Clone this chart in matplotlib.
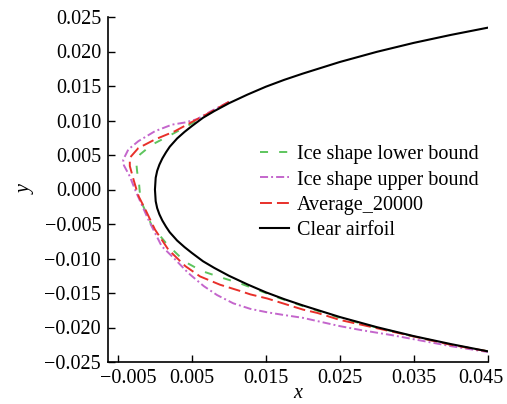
import matplotlib
matplotlib.use("Agg")
import matplotlib.pyplot as plt
from matplotlib.transforms import ScaledTranslation

plt.rcParams['font.family'] = ['Liberation Serif', 'DejaVu Serif']
plt.rcParams['lines.scale_dashes'] = False

# Clear airfoil (upper surface from x=0.045 to the leading edge, then the lower surface)
clear_x = [0.045, 0.040, 0.035, 0.030, 0.025, 0.020, 0.0175, 0.015, 0.0125, 0.010, 0.008,
           0.0065, 0.005, 0.004, 0.003, 0.002, 0.0015, 0.001, 0.0006, 0.0003, 0.0001, 0.0,
           0.0001, 0.0003, 0.0006, 0.001, 0.0015, 0.002, 0.003, 0.004, 0.005, 0.0065,
           0.008, 0.010, 0.0125, 0.015, 0.0175, 0.020, 0.025, 0.030, 0.035, 0.040, 0.045]
clear_y = [0.02345, 0.0224, 0.02125, 0.01995, 0.01848, 0.0168, 0.0159, 0.0149, 0.01375, 0.0125, 0.01135,
           0.0104, 0.0092, 0.00835, 0.0074, 0.0062, 0.0054, 0.0045, 0.0036, 0.0027, 0.0017, 0.0,
           -0.0017, -0.0027, -0.0036, -0.0045, -0.0054, -0.0062, -0.0074, -0.00835, -0.0092, -0.0104,
           -0.01135, -0.0125, -0.01375, -0.0149, -0.0159, -0.0168, -0.01848, -0.01995, -0.02125, -0.0224, -0.02345]

# Ice shape lower bound
lower_x = [0.010, 0.0075, 0.0052, 0.0023, -0.0004, -0.0020, -0.0025, -0.0024, -0.0022, -0.0020,
           -0.0018, -0.0004, 0.0016, 0.0041, 0.0063, 0.0088, 0.0115, 0.0140, 0.0170,
           0.020, 0.025, 0.030, 0.035, 0.040, 0.045]
lower_y = [0.0126, 0.0111, 0.0097, 0.0080, 0.0065, 0.0051, 0.0036, 0.0025, 0.00145, -0.0010,
           -0.0019, -0.0053, -0.0079, -0.0105, -0.0118, -0.0127, -0.0136, -0.0146, -0.0158,
           -0.0169, -0.0186, -0.0200, -0.0213, -0.0225, -0.02345]

# Ice shape upper bound
upper_x = [0.010, 0.0075, 0.0057, 0.0040, 0.0023, 0.0, -0.00225, -0.0036, -0.0043, -0.0042,
           -0.0034, -0.0027, -0.0025, -0.0009, 0.0009, 0.0027, 0.0045, 0.0066, 0.0084,
           0.0106, 0.0129, 0.0152, 0.0175, 0.020, 0.0225, 0.025, 0.028, 0.032, 0.035,
           0.040, 0.045]
upper_y = [0.0127, 0.0113, 0.0102, 0.0097, 0.0094, 0.00845, 0.0070, 0.0058, 0.0043, 0.0035,
           0.0019, 0.0, -0.0005, -0.00435, -0.0082, -0.0101, -0.0121, -0.0140, -0.0153,
           -0.0165, -0.0173, -0.0178, -0.0182, -0.0186, -0.0192, -0.0198, -0.0204, -0.0211, -0.0217,
           -0.0227, -0.02355]

# Average_20000
avg_x = [0.010, 0.0075, 0.0052, 0.0027, 0.0, -0.00225, -0.0034, -0.0034, -0.0029, -0.0025,
         -0.0022, -0.0013, 0.0, 0.0018, 0.0041, 0.0061, 0.0088, 0.0115, 0.0129, 0.0152, 0.020,
         0.022, 0.025, 0.030, 0.035, 0.040, 0.045]
avg_y = [0.0127, 0.0112, 0.0099, 0.00845, 0.00725, 0.0060, 0.0046, 0.0034, 0.00145, 0.0,
         -0.0010, -0.0029, -0.0058, -0.0087, -0.0111, -0.0126, -0.0138, -0.0147, -0.0152, -0.0158, -0.0174,
         -0.0179, -0.0189, -0.0201, -0.0213, -0.0225, -0.02345]

labels = ['Ice shape lower bound', 'Ice shape upper bound', 'Average_20000', 'Clear airfoil']
x_ticks = [-0.005, 0.005, 0.015, 0.025, 0.035, 0.045]
y_ticks = [-0.025, -0.020, -0.015, -0.010, -0.005, 0.000, 0.005, 0.010, 0.015, 0.020, 0.025]

fig = plt.figure(figsize=(5.07, 4.04), dpi=100)
ax = fig.add_axes([108/507, 1 - 362/404, (487.7 - 108)/507, (362 - 17)/404])

h_lower, = ax.plot(lower_x, lower_y, color='#5dc55d', lw=1.4, dashes=(5.8, 8.0), zorder=2)
h_upper, = ax.plot(upper_x, upper_y, color='#c466cc', lw=1.4, dashes=(5.8, 2.2, 1.4, 2.2), zorder=2)
h_avg, = ax.plot(avg_x, avg_y, color='#e8302a', lw=1.4, dashes=(8.6, 3.6), zorder=3)
h_clear, = ax.plot(clear_x, clear_y, color='black', lw=1.5, zorder=4)

ax.set_xlim(-0.00635, 0.045)
ax.set_ylim(-0.025, 0.025)
ax.set_xticks(x_ticks)
ax.set_xticklabels([f'{v:.3f}'.replace('-', '\u2212') for v in x_ticks])
ax.set_yticks(y_ticks)
ax.set_yticklabels([f'{v:.3f}'.replace('-', '\u2212') for v in y_ticks])
ax.tick_params(direction='in', length=5, width=1.0, labelsize=14.5, pad=5)
for s in ['top', 'right']:
    ax.spines[s].set_visible(False)
for s in ['left', 'bottom']:
    ax.spines[s].set_linewidth(1.2)

xl = ax.get_xticklabels()
xl[0].set_transform(xl[0].get_transform() + ScaledTranslation(10/100, 0, fig.dpi_scale_trans))
xl[-1].set_transform(xl[-1].get_transform() + ScaledTranslation(-7/100, 0, fig.dpi_scale_trans))

ax.set_xlabel('x', fontsize=14.5, style='italic', labelpad=-3)
ax.set_ylabel('y', fontsize=14.5, style='italic', labelpad=6)

leg = fig.legend([h_lower, h_upper, h_avg, h_clear], labels,
                 loc='upper left', bbox_to_anchor=(260/507, 1 - 145/404),
                 frameon=False, fontsize=14.5, handlelength=1.45, handletextpad=0.4,
                 labelspacing=0.315, borderpad=0, borderaxespad=0)

fig.savefig('out.png', dpi=100)
